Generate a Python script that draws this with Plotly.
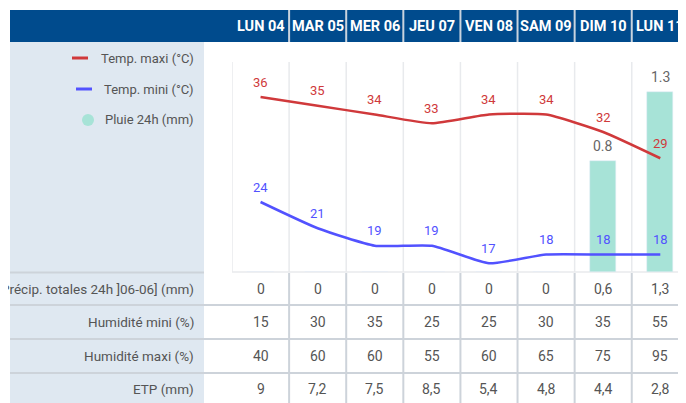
import plotly.graph_objects as go

OFF = 8  # browser body margin
W, H = 686 - OFF, 403 - OFF

days = ["LUN 04", "MAR 05", "MER 06", "JEU 07", "VEN 08", "SAM 09", "DIM 10", "LUN 11"]
tmax = [36, 35, 34, 33, 34, 34, 32, 29]
tmin = [24, 21, 19, 19, 17, 18, 18, 18]
rain = [0, 0, 0, 0, 0, 0, 0.8, 1.3]
precip = ["0", "0", "0", "0", "0", "0", "0,6", "1,3"]
hum_min = ["15", "30", "35", "25", "25", "30", "35", "55"]
hum_max = ["40", "60", "60", "55", "60", "65", "75", "95"]
etp = ["9", "7,2", "7,5", "8,5", "5,4", "4,8", "4,4", "2,8"]
row_labels = ["Précip. totales 24h ]06-06] (mm)", "Humidité mini (%)",
              "Humidité maxi (%)", "ETP (mm)"]
legend_labels = ["Temp. maxi (°C)", "Temp. mini (°C)", "Pluie 24h (mm)"]

RED = "#d0393b"
BLUE = "#5252ff"
TEAL = "#a7e3d7"
HEAD = "#004b8d"
PANEL = "#dfe8f1"
GRID = "#e8eaed"
TLINE = "#cdd3da"
TXT = "#555555"
FONT = "Roboto, Arial, sans-serif"
HFONT = "Roboto, Arial, sans-serif"


def px(x):
    return (x - OFF) / W


def py(y):
    return 1 - (y - OFF) / H


fig = go.Figure()
fig.add_trace(go.Bar(x=days, y=rain, marker_color=TEAL, width=0.46,
                     yaxis="y", hoverinfo="skip"))
fig.add_trace(go.Scatter(x=days, y=tmax, mode="lines", yaxis="y2",
                         line=dict(color=RED, width=2.5, shape="spline", smoothing=0.5),
                         hoverinfo="skip"))
fig.add_trace(go.Scatter(x=days, y=tmin, mode="lines", yaxis="y2",
                         line=dict(color=BLUE, width=2.5, shape="spline", smoothing=0.5),
                         hoverinfo="skip"))

shapes = []
ann = []

# header bar
shapes.append(dict(type="rect", xref="paper", yref="paper", x0=px(10), x1=1,
                   y0=py(42), y1=py(10), fillcolor=HEAD, line_width=0, layer="below"))
# left panel
shapes.append(dict(type="rect", xref="paper", yref="paper", x0=px(10), x1=px(204),
                   y0=0, y1=py(42), fillcolor=PANEL, line_width=0, layer="below"))
# header separators
for i in range(len(days) - 1):
    shapes.append(dict(type="line", xref="x", yref="paper", x0=i + 0.5, x1=i + 0.5,
                       y0=py(42), y1=py(10), line=dict(color="#c9d3de", width=2)))
# chart grid lines
for i in range(-1, len(days) - 1):
    shapes.append(dict(type="line", xref="x", yref="paper", x0=i + 0.5, x1=i + 0.5,
                       y0=py(272), y1=py(62), line=dict(color=GRID, width=1.5),
                       layer="below"))
# chart bottom border
shapes.append(dict(type="line", xref="paper", yref="paper", x0=px(232), x1=1,
                   y0=py(272), y1=py(272), line=dict(color=GRID, width=1.5), layer="below"))
# left panel bottom line
shapes.append(dict(type="line", xref="paper", yref="paper", x0=px(10), x1=px(204),
                   y0=py(272.5), y1=py(272.5), line=dict(color=TLINE, width=2), layer="below"))
# table row lines
for yy in [305, 339, 373]:
    shapes.append(dict(type="line", xref="paper", yref="paper", x0=px(10), x1=1,
                       y0=py(yy), y1=py(yy), line=dict(color=TLINE, width=2), layer="below"))
# table column lines
for i in range(len(days) - 1):
    shapes.append(dict(type="line", xref="x", yref="paper", x0=i + 0.5, x1=i + 0.5,
                       y0=0, y1=py(273), line=dict(color=TLINE, width=2), layer="below"))

# header labels
for d in days:
    ann.append(dict(x=d, xref="x", y=py(26), yref="paper", text=d, showarrow=False,
                    xanchor="center", yanchor="middle",
                    font=dict(family=HFONT, size=14.5, color="white", weight="bold")))

# legend
shapes.append(dict(type="line", xref="paper", yref="paper", x0=px(72), x1=px(88),
                   y0=py(58), y1=py(58), line=dict(color=RED, width=3)))
shapes.append(dict(type="line", xref="paper", yref="paper", x0=px(76), x1=px(92),
                   y0=py(89), y1=py(89), line=dict(color=BLUE, width=3)))
shapes.append(dict(type="circle", xref="paper", yref="paper", x0=px(82), x1=px(94),
                   y0=py(126), y1=py(114), fillcolor=TEAL, line_width=0))
for lab, yy in zip(legend_labels, [58, 89, 120]):
    ann.append(dict(x=px(196), xref="paper", y=py(yy), yref="paper", text=lab,
                    xanchor="right", yanchor="middle", showarrow=False,
                    font=dict(family=FONT, size=13, color=TXT)))

# point labels
for d, t in zip(days, tmax):
    ann.append(dict(x=d, xref="x", y=t, yref="y2", text=str(t), showarrow=False,
                    yanchor="middle", yshift=15, font=dict(family=FONT, size=13, color=RED)))
for d, t in zip(days, tmin):
    ann.append(dict(x=d, xref="x", y=t, yref="y2", text=str(t), showarrow=False,
                    yanchor="middle", yshift=15, font=dict(family=FONT, size=13, color=BLUE)))
for d, r in zip(days, rain):
    if r:
        ann.append(dict(x=d, xref="x", y=r, yref="y", text=f"{r}", showarrow=False,
                        yanchor="middle", yshift=15,
                        font=dict(family=FONT, size=14, color="#666666")))

# table
rows = [precip, hum_min, hum_max, etp]
row_y = [289, 322, 356, 389]
for lab, vals, yy in zip(row_labels, rows, row_y):
    ann.append(dict(x=px(196), xref="paper", y=py(yy), yref="paper", text=lab,
                    xanchor="right", yanchor="middle", showarrow=False,
                    font=dict(family=FONT, size=13.5, color=TXT)))
    for d, v in zip(days, vals):
        ann.append(dict(x=d, xref="x", y=py(yy), yref="paper", text=v, showarrow=False,
                        xanchor="center", yanchor="middle",
                        font=dict(family=FONT, size=14, color=TXT)))

fig.update_layout(
    width=W, height=H,
    margin=dict(l=0, r=0, t=0, b=0),
    paper_bgcolor="white", plot_bgcolor="rgba(0,0,0,0)",
    showlegend=False,
    bargap=0,
    xaxis=dict(domain=[px(232), 1], range=[-0.5, 7.45], type="category",
               categoryorder="array", categoryarray=days, visible=False),
    yaxis=dict(domain=[py(272), py(62)], range=[0, 1.52], visible=False),
    yaxis2=dict(overlaying="y", range=[16, 40], visible=False),
    shapes=shapes, annotations=ann,
)

fig.write_html("out.html", config={"displayModeBar": False})
